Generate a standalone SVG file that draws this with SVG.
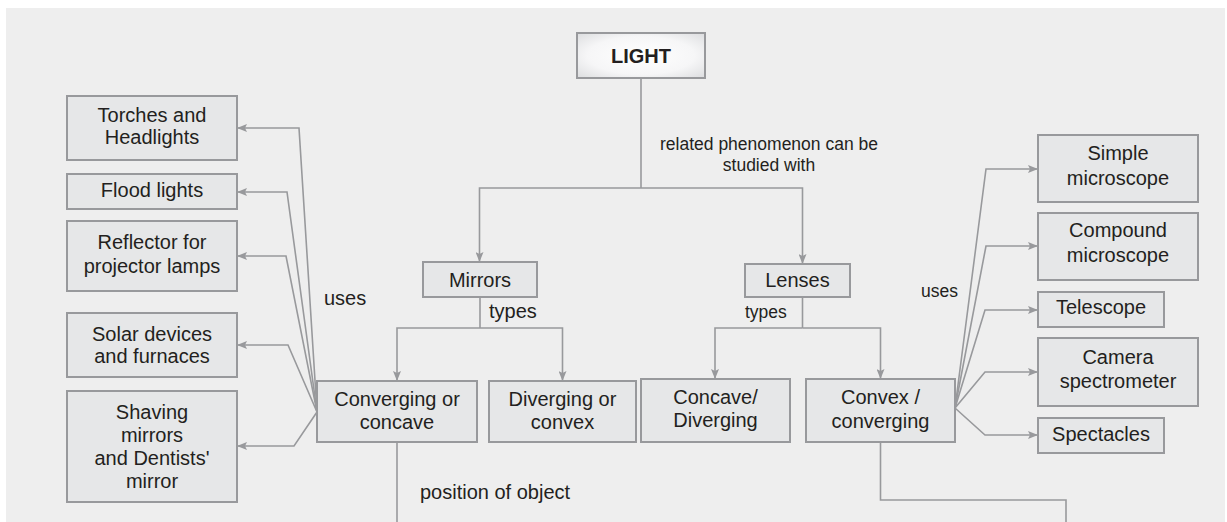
<svg xmlns="http://www.w3.org/2000/svg" width="1227" height="522" viewBox="0 0 1227 522">
  <defs>
    <style>
      .node rect { fill: #e6e7e8; stroke: #98999c; stroke-width: 2; }
      .t { font-family: "Liberation Sans", Arial, sans-serif; font-size: 20px; fill: #231f20; text-anchor: middle; }
      .lbl { font-family: "Liberation Sans", Arial, sans-serif; font-size: 20px; fill: #231f20; }
      .sm { font-size: 17.5px; }
      .conn path { fill: none; stroke: #98999c; stroke-width: 1.6; }
      .conn path.a { marker-end: url(#arrow); }
    </style>
    <marker id="arrow" viewBox="0 0 10 8" refX="10" refY="4" markerWidth="10" markerHeight="8" markerUnits="userSpaceOnUse" orient="auto">
      <path d="M0,0 L10,4 L0,8 L2,4 Z" fill="#98999c"/>
    </marker>
    <radialGradient id="glow" cx="0.5" cy="0.5" r="0.7">
      <stop offset="0" stop-color="#ffffff"/>
      <stop offset="0.6" stop-color="#f6f6f7"/>
      <stop offset="1" stop-color="#dcdddf"/>
    </radialGradient>
  </defs>

  <!-- page panel -->
  <rect x="6" y="8" width="1219" height="514" fill="#eeeeee"/>

  <!-- connectors -->
  <g id="connectors" class="conn">
    <!-- LIGHT to Mirrors / Lenses -->
    <path d="M641,78 V188"/>
    <path class="a" d="M641,188 H479.5 V262"/>
    <path class="a" d="M641,188 H802.5 V264"/>
    <!-- Mirrors types -->
    <path d="M480,297 V328"/>
    <path class="a" d="M480,328 H397 V381"/>
    <path class="a" d="M480,328 H562.5 V381"/>
    <!-- Lenses types -->
    <path d="M802.5,297 V328"/>
    <path class="a" d="M802.5,328 H715 V379"/>
    <path class="a" d="M802.5,328 H880.5 V379"/>
    <!-- concave mirror uses -->
    <path class="a" d="M317,412 L299,128 H237"/>
    <path class="a" d="M317,412 L287,192 H237"/>
    <path class="a" d="M317,412 L286,256 H237"/>
    <path class="a" d="M317,412 L288,345 H237"/>
    <path class="a" d="M317,412 L294,446 H237"/>
    <!-- convex lens uses -->
    <path class="a" d="M955,408 L986,169 H1038"/>
    <path class="a" d="M955,408 L986,246 H1038"/>
    <path class="a" d="M955,408 L985,310 H1038"/>
    <path class="a" d="M955,408 L985,372 H1038"/>
    <path class="a" d="M955,408 L985,435 H1038"/>
    <!-- continuing downward -->
    <path d="M397,442 V522"/>
    <path d="M880.5,442 V500 H1066 V522"/>
  </g>

  <!-- connector labels -->
  <g id="labels">
    <text class="lbl sm" x="769" y="150" text-anchor="middle">related phenomenon can be</text>
    <text class="lbl sm" x="769" y="171" text-anchor="middle">studied with</text>
    <text class="lbl" x="489" y="318">types</text>
    <text class="lbl sm" x="745" y="318">types</text>
    <text class="lbl" x="324" y="305">uses</text>
    <text class="lbl sm" x="921" y="297">uses</text>
    <text class="lbl" x="420" y="499">position of object</text>
  </g>

  <!-- nodes -->
  <g id="light" class="node">
    <rect x="577" y="33" width="128" height="45" style="fill:url(#glow)"/>
    <text class="t" x="641" y="63" font-weight="bold">LIGHT</text>
  </g>
  <g id="mirrors" class="node">
    <rect x="423" y="262" width="114" height="35"/>
    <text class="t" x="480" y="287">Mirrors</text>
  </g>
  <g id="lenses" class="node">
    <rect x="745" y="264" width="105" height="33"/>
    <text class="t" x="797.5" y="287">Lenses</text>
  </g>
  <g id="converging-concave" class="node">
    <rect x="317" y="381" width="160" height="61"/>
    <text class="t" x="397" y="406">Converging or</text>
    <text class="t" x="397" y="429">concave</text>
  </g>
  <g id="diverging-convex" class="node">
    <rect x="489" y="381" width="147" height="61"/>
    <text class="t" x="562.5" y="406">Diverging or</text>
    <text class="t" x="562.5" y="429">convex</text>
  </g>
  <g id="concave-diverging" class="node">
    <rect x="641" y="379" width="149" height="63"/>
    <text class="t" x="715.5" y="404">Concave/</text>
    <text class="t" x="715.5" y="427">Diverging</text>
  </g>
  <g id="convex-converging" class="node">
    <rect x="806" y="379" width="149" height="63"/>
    <text class="t" x="880.5" y="404">Convex /</text>
    <text class="t" x="880.5" y="428">converging</text>
  </g>

  <g id="torches" class="node">
    <rect x="67" y="96" width="170" height="64"/>
    <text class="t" x="152" y="122">Torches and</text>
    <text class="t" x="152" y="144">Headlights</text>
  </g>
  <g id="flood" class="node">
    <rect x="67" y="174" width="170" height="35"/>
    <text class="t" x="152" y="197">Flood lights</text>
  </g>
  <g id="reflector" class="node">
    <rect x="67" y="221" width="170" height="70"/>
    <text class="t" x="152" y="249">Reflector for</text>
    <text class="t" x="152" y="273">projector lamps</text>
  </g>
  <g id="solar" class="node">
    <rect x="67" y="313" width="170" height="64"/>
    <text class="t" x="152" y="341">Solar devices</text>
    <text class="t" x="152" y="363">and furnaces</text>
  </g>
  <g id="shaving" class="node">
    <rect x="67" y="391" width="170" height="111"/>
    <text class="t" x="152" y="419">Shaving</text>
    <text class="t" x="152" y="442">mirrors</text>
    <text class="t" x="152" y="465">and Dentists'</text>
    <text class="t" x="152" y="488">mirror</text>
  </g>

  <g id="simple-microscope" class="node">
    <rect x="1038" y="135" width="160" height="67"/>
    <text class="t" x="1118" y="160">Simple</text>
    <text class="t" x="1118" y="185">microscope</text>
  </g>
  <g id="compound-microscope" class="node">
    <rect x="1038" y="213" width="160" height="67"/>
    <text class="t" x="1118" y="237">Compound</text>
    <text class="t" x="1118" y="262">microscope</text>
  </g>
  <g id="telescope" class="node">
    <rect x="1038" y="292" width="126" height="35"/>
    <text class="t" x="1101" y="314">Telescope</text>
  </g>
  <g id="camera" class="node">
    <rect x="1038" y="338" width="160" height="68"/>
    <text class="t" x="1118" y="364">Camera</text>
    <text class="t" x="1118" y="388">spectrometer</text>
  </g>
  <g id="spectacles" class="node">
    <rect x="1038" y="418" width="126" height="35"/>
    <text class="t" x="1101" y="441">Spectacles</text>
  </g>
</svg>
